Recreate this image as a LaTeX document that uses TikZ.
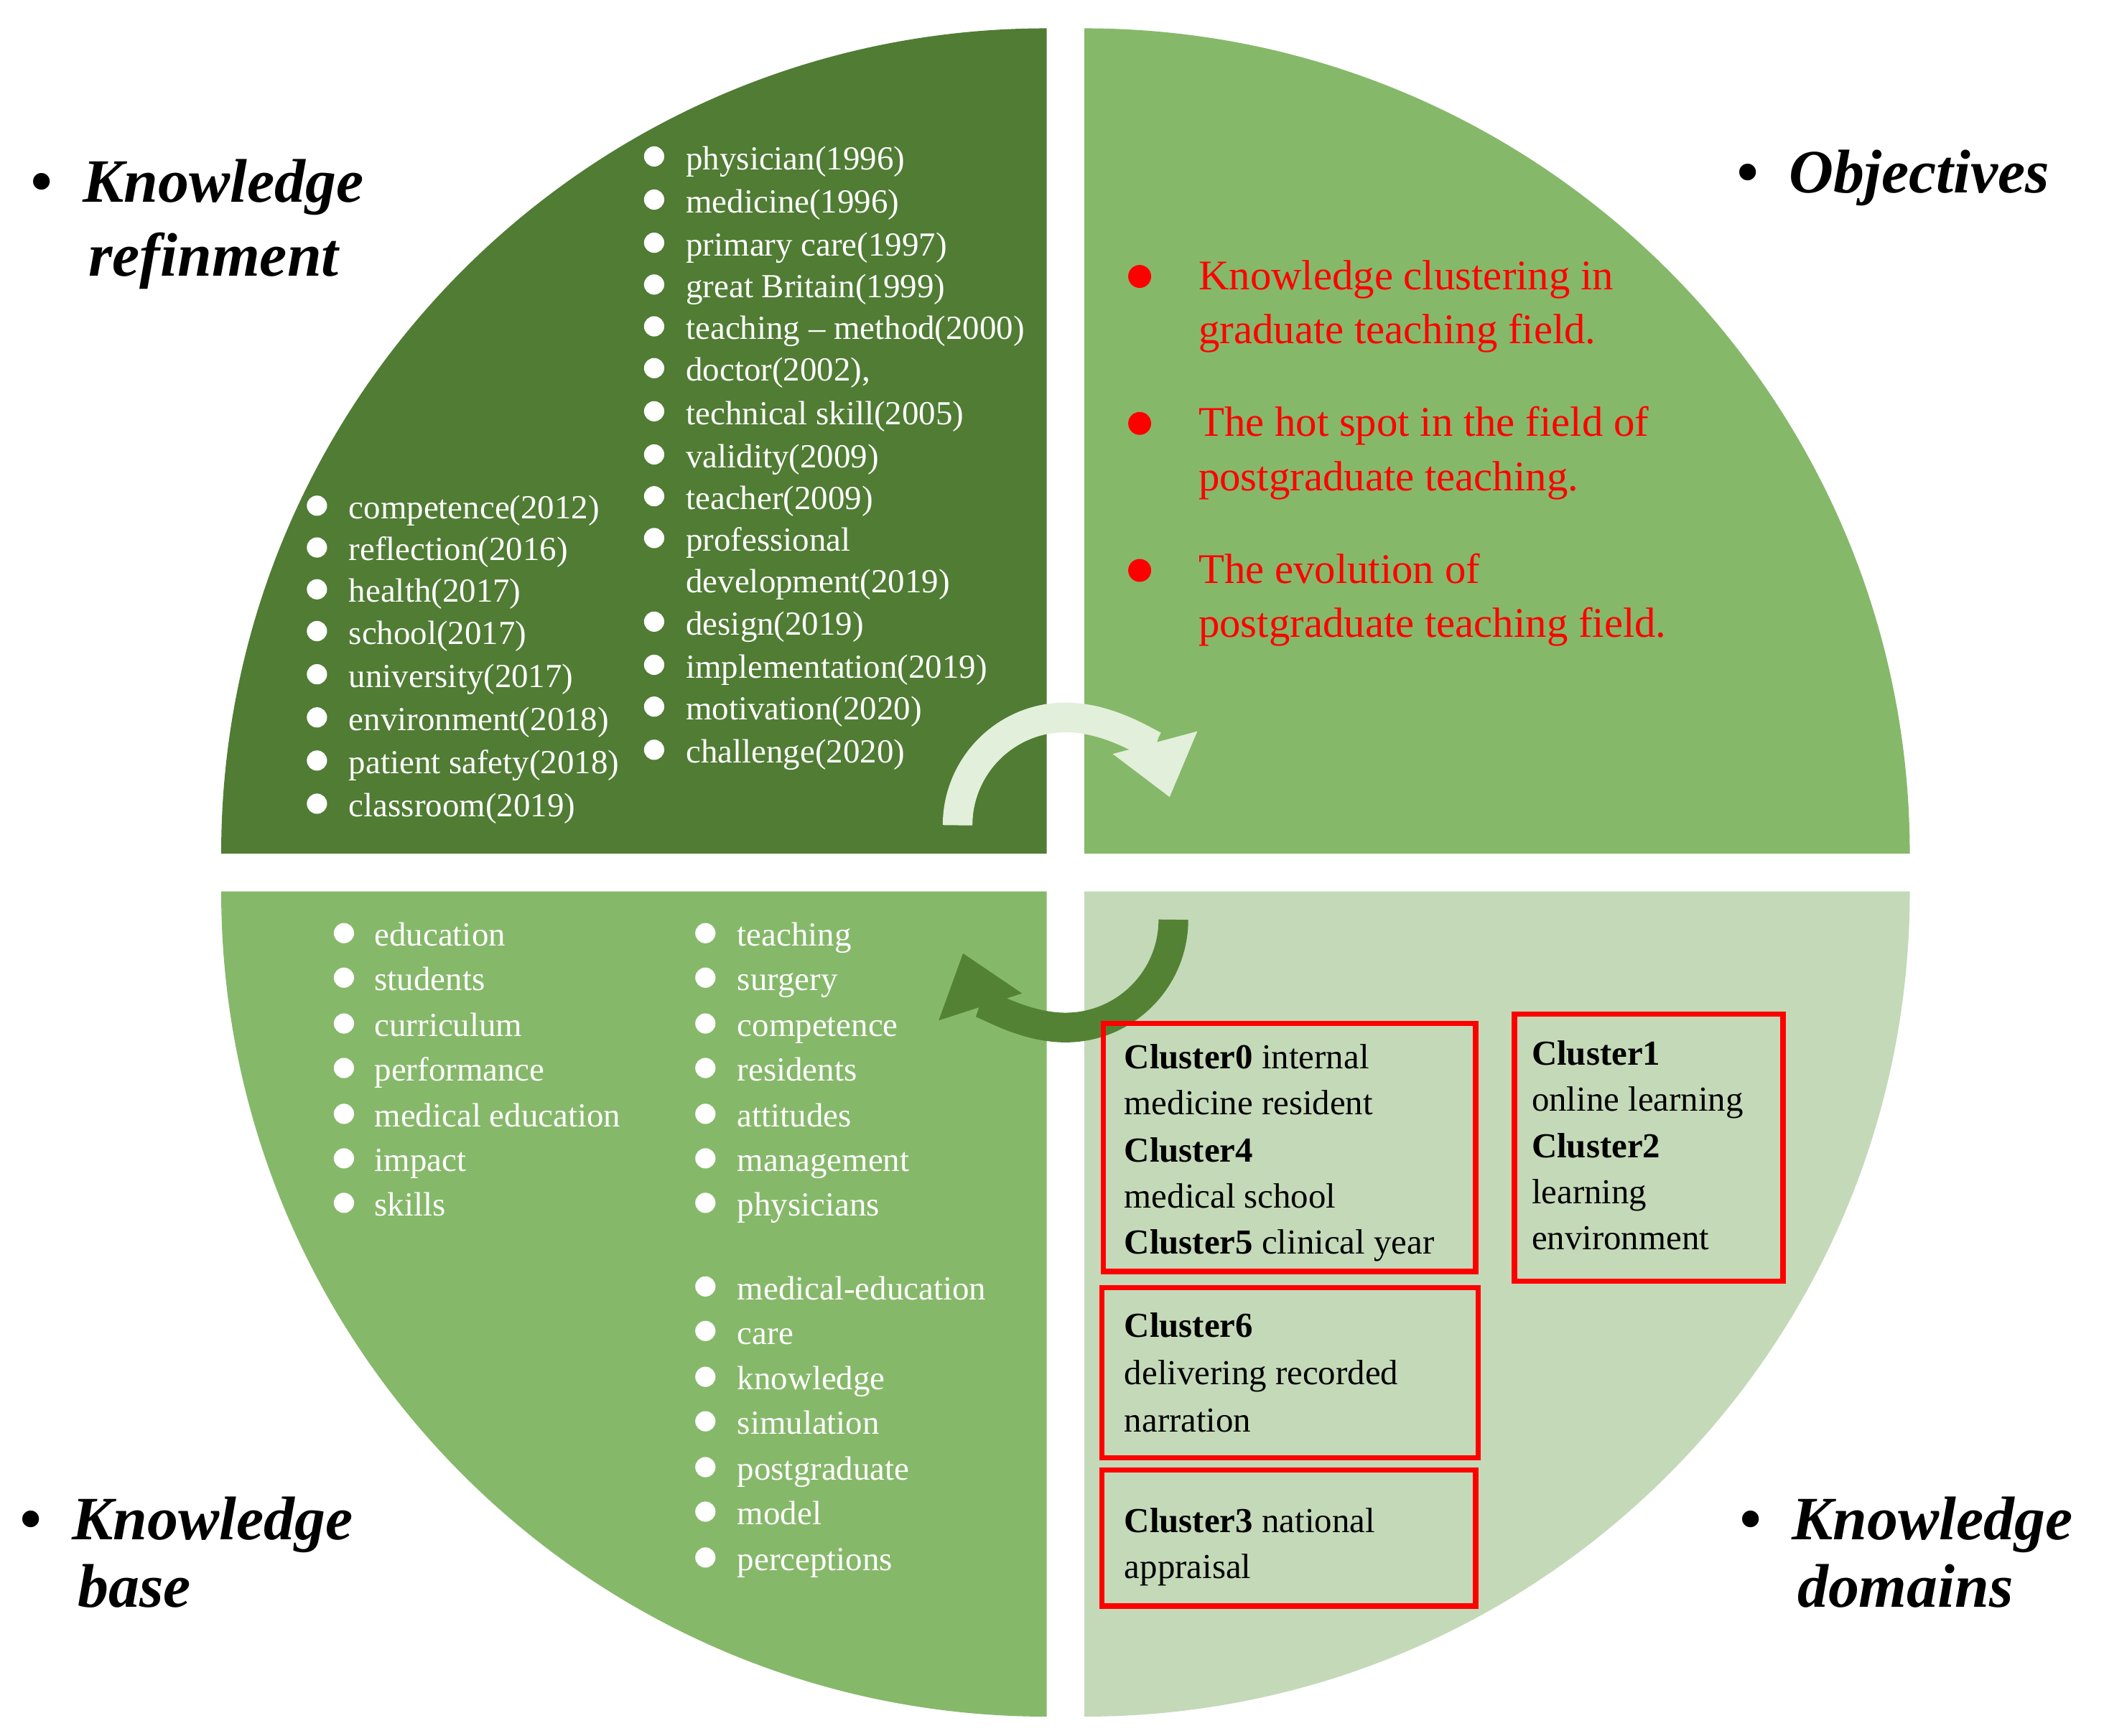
\documentclass[tikz,border=0pt]{standalone}
\usepackage{fontspec}
\setmainfont{Liberation Serif}
\usetikzlibrary{arrows.meta}
\definecolor{dg}{HTML}{507C34}
\definecolor{mg}{HTML}{86B86A}
\definecolor{lg}{HTML}{C4D9B8}
\definecolor{pale}{HTML}{E2EFDA}
\definecolor{arrg}{HTML}{548235}
\tikzset{
 fix/.style={text height=1.6ex,text depth=0.4ex},
 item/.style={fix,anchor=west,inner sep=0pt,text=white,font=\fontsize{7.1pt}{8pt}\selectfont},
 wdot/.style={circle,fill=white,inner sep=0pt,minimum size=0.15cm},
 ttl/.style={fix,anchor=west,inner sep=0pt,font=\fontsize{13pt}{15pt}\selectfont\bfseries\itshape},
 obj/.style={fix,anchor=west,inner sep=0pt,text=red,font=\fontsize{8.9pt}{10pt}\selectfont},
 cl/.style={fix,anchor=west,inner sep=0pt,font=\fontsize{7.4pt}{9pt}\selectfont},
 rbox/.style={draw=red,line width=0.04cm},
}
\begin{document}
\begin{tikzpicture}[x=0.01cm,y=-0.01cm]
\useasboundingbox (0,0) rectangle (1560,1287);
% quadrants
\fill[dg] (164,633) arc[start angle=180,end angle=270,radius=612] -- (776,633) -- cycle;
\fill[mg] (804,21) arc[start angle=270,end angle=360,radius=612] -- (804,633) -- cycle;
\fill[mg] (164,661) arc[start angle=180,end angle=90,radius=612] -- (776,661) -- cycle;
\fill[lg] (1416,661) arc[start angle=0,end angle=90,radius=612] -- (804,661) -- cycle;
% arrows
\draw[pale,line width=0.22cm,-{Triangle[length=0.42cm,width=0.62cm]}] (710,612) arc[start angle=180,end angle=345,radius=80];
\draw[arrg,line width=0.22cm,-{Triangle[length=0.42cm,width=0.62cm]}] (870,682) arc[start angle=0,end angle=162,radius=80];
% titles
\node[ttl] (t1a) at (22,140) {•\ \ Knowledge};
\node[ttl] (t1b) at (65,195) {refinment};
\node[ttl] (t2) at (1287,133) {•\ \ Objectives};
\node[ttl] (t3a) at (14,1132) {•\ \ Knowledge};
\node[ttl] (t3b) at (57,1182) {base};
\node[ttl] (t4a) at (1289,1132) {•\ \ Knowledge};
\node[ttl] (t4b) at (1332,1182) {domains};
% TL right column
\foreach \t/\y [count=\i] in {physician(1996)/116,medicine(1996)/148,primary care(1997)/180,great Britain(1999)/211,teaching – method(2000)/242,{doctor(2002),}/273,technical skill(2005)/305,validity(2009)/337,teacher(2009)/368,professional/399,design(2019)/461,implementation(2019)/493,motivation(2020)/524,challenge(2020)/556}{
 \node[wdot] (ra\i) at (485,\y) {};
 \node[item] (rt\i) at (508,\y) {\t};
}
\node[item] (rtx) at (508,430) {development(2019)};
% TL left column
\foreach \t/\y [count=\i] in {competence(2012)/375,reflection(2016)/406,health(2017)/437,school(2017)/468,university(2017)/500,environment(2018)/532,patient safety(2018)/564,classroom(2019)/596}{
 \node[wdot] (la\i) at (235,\y) {};
 \node[item] (lt\i) at (258,\y) {\t};
}
% objectives
\foreach \a/\b/\y [count=\i] in {Knowledge clustering in/graduate teaching field./205,The hot spot in the field of/postgraduate teaching./314,The evolution of/postgraduate teaching field./423}{
 \node[circle,fill=red,inner sep=0pt,minimum size=0.17cm] (od\i) at (845,\y) {};
 \node[obj] (oa\i) at (888,\y) {\a};
 \node[obj] (ob\i) at (888,\y+40) {\b};
}
% BL columns
\foreach \t/\y [count=\i] in {education/692,students/725,curriculum/759,performance/792,medical education/826,impact/859,skills/892}{
 \node[wdot] (ba\i) at (255,\y) {};
 \node[item] (bt\i) at (277,\y) {\t};
}
\foreach \t/\y [count=\i] in {teaching/692,surgery/725,competence/759,residents/792,attitudes/826,management/859,physicians/892,medical-education/954,care/987,knowledge/1021,simulation/1054,postgraduate/1088,model/1121,perceptions/1155}{
 \node[wdot] (ca\i) at (523,\y) {};
 \node[item] (ct\i) at (546,\y) {\t};
}
% clusters
\draw[rbox] (818,759) rectangle (1094,943);
\draw[rbox] (1123,752) rectangle (1322,950);
\draw[rbox] (817,955) rectangle (1096,1081);
\draw[rbox] (817,1090) rectangle (1094,1191);
\node[cl] (c1) at (833,783) {\textbf{Cluster0} internal};
\node[cl] (c2) at (833,817) {medicine resident};
\node[cl] (c3) at (833,852) {\textbf{Cluster4}};
\node[cl] (c4) at (833,886) {medical school};
\node[cl] (c5) at (833,920) {\textbf{Cluster5} clinical year};
\node[cl] (d1) at (1135,780) {\textbf{Cluster1}};
\node[cl] (d2) at (1135,814) {online learning};
\node[cl] (d3) at (1135,849) {\textbf{Cluster2}};
\node[cl] (d4) at (1135,883) {learning};
\node[cl] (d5) at (1135,917) {environment};
\node[cl] (e1) at (833,982) {\textbf{Cluster6}};
\node[cl] (e2) at (833,1017) {delivering recorded};
\node[cl] (e3) at (833,1052) {narration};
\node[cl] (f1) at (833,1127) {\textbf{Cluster3} national};
\node[cl] (f2) at (833,1161) {appraisal};
\end{tikzpicture}
\end{document}
